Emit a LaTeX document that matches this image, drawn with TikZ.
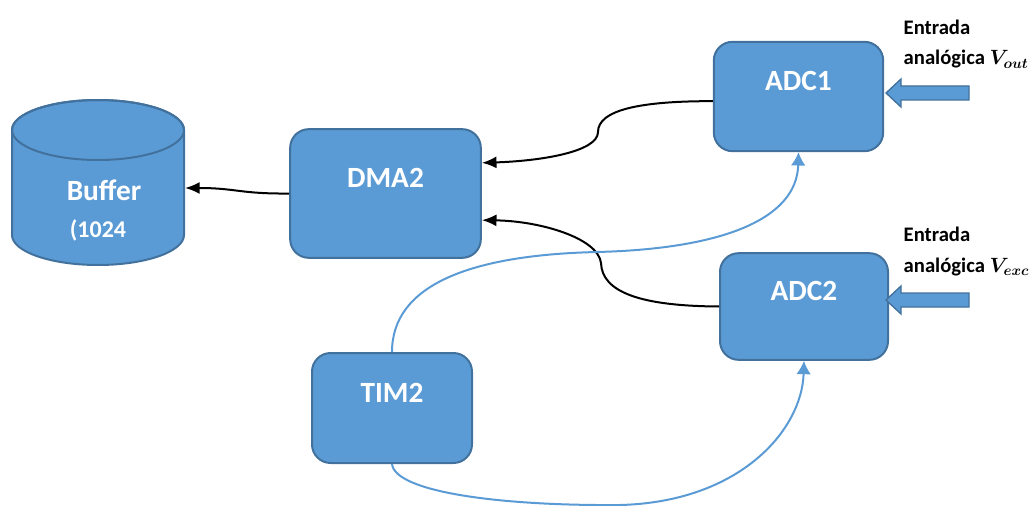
\documentclass[tikz,border=0pt]{standalone}
\usepackage{fix-cm}
\usepackage{fontspec}
\setmainfont{Carlito}
\usetikzlibrary{arrows.meta}
\definecolor{boxfill}{HTML}{5B9BD5}
\definecolor{boxline}{HTML}{41719C}

\begin{document}
\begin{tikzpicture}[x=0.75pt, y=-0.75pt,
    blk/.style={rectangle, rounded corners=14pt, fill=boxfill, draw=boxline, line width=1.5pt, text=white, font=\fontsize{22}{26}\selectfont\bfseries, text depth=23pt},
    conn/.style={line width=1.5pt, -{Latex[length=11pt,width=9pt]}},
    tconn/.style={boxfill, line width=1.5pt, -{Latex[length=10pt,width=11pt]}},
    inarr/.style={fill=boxfill, draw=boxline, line width=1pt},
    inlbl/.style={anchor=base west, align=left, font=\fontsize{15.5}{23}\selectfont\bfseries}]
\useasboundingbox (0,0) rectangle (1031,506);
% buffer
\draw[fill=boxfill, draw=boxline, line width=1.5pt] (12,130) -- (12,235) arc[start angle=180, end angle=0, x radius=86, y radius=30] -- (184,130) arc[start angle=0, end angle=-180, x radius=86, y radius=30] -- cycle;
\draw[draw=boxline, line width=1.5pt] (98,130) ellipse [x radius=86, y radius=30];
\node[anchor=base, text=white, font=\fontsize{22}{26}\selectfont\bfseries] (buf) at (104,200) {Buffer};
\node[anchor=base, text=white, font=\fontsize{18}{22}\selectfont\bfseries] (buflen) at (98,237) {(1024};
\coordinate (bufin) at (185,188);

\node[blk, minimum width=143pt, minimum height=96.5pt] (dma) at (385.5,193.5) {DMA2};
\node[blk, minimum width=127pt, minimum height=82pt] (adc1) at (798.5,96.5) {ADC1};
\node[blk, minimum width=126pt, minimum height=80pt] (adc2) at (804,306.5) {ADC2};
\node[blk, minimum width=120pt, minimum height=82.5pt] (tim) at (392,408) {TIM2};

% analog inputs
\foreach \yy/\nm/\sb in {93/1/out, 300/2/exc} {
    \draw[inarr] (969,\yy-7) -- (901,\yy-7) -- (901,\yy-14) -- (886,\yy) -- (901,\yy+14) -- (901,\yy+7) -- (969,\yy+7) -- cycle;
    \node[inlbl] (in\nm) at (899,\yy-28) {Entrada\\analógica {\boldmath$V_{\sb}$}};
}

\draw[conn] (dma.west) .. controls (240,194) and (236,188) .. (bufin);
\draw[conn] ([yshift=-3.5pt]adc1.west) .. controls (640,101) and (598,110) .. (598,132) .. controls (598,152) and (540,161) .. ([yshift=23pt]dma.east);
\draw[conn] (adc2.west) .. controls (640,306) and (602,292) .. (601,263) .. controls (598,238) and (540,221) .. ([yshift=-20pt]dma.east);
\draw[tconn] (tim.north) .. controls (392,285) and (470,255) .. (597,252) .. controls (720,249) and (797,220) .. (adc1.south);
\draw[tconn] (tim.south) .. controls (395,492) and (500,506) .. (620,505) .. controls (740,502) and (802,430) .. (adc2.south);
\end{tikzpicture}
\end{document}
